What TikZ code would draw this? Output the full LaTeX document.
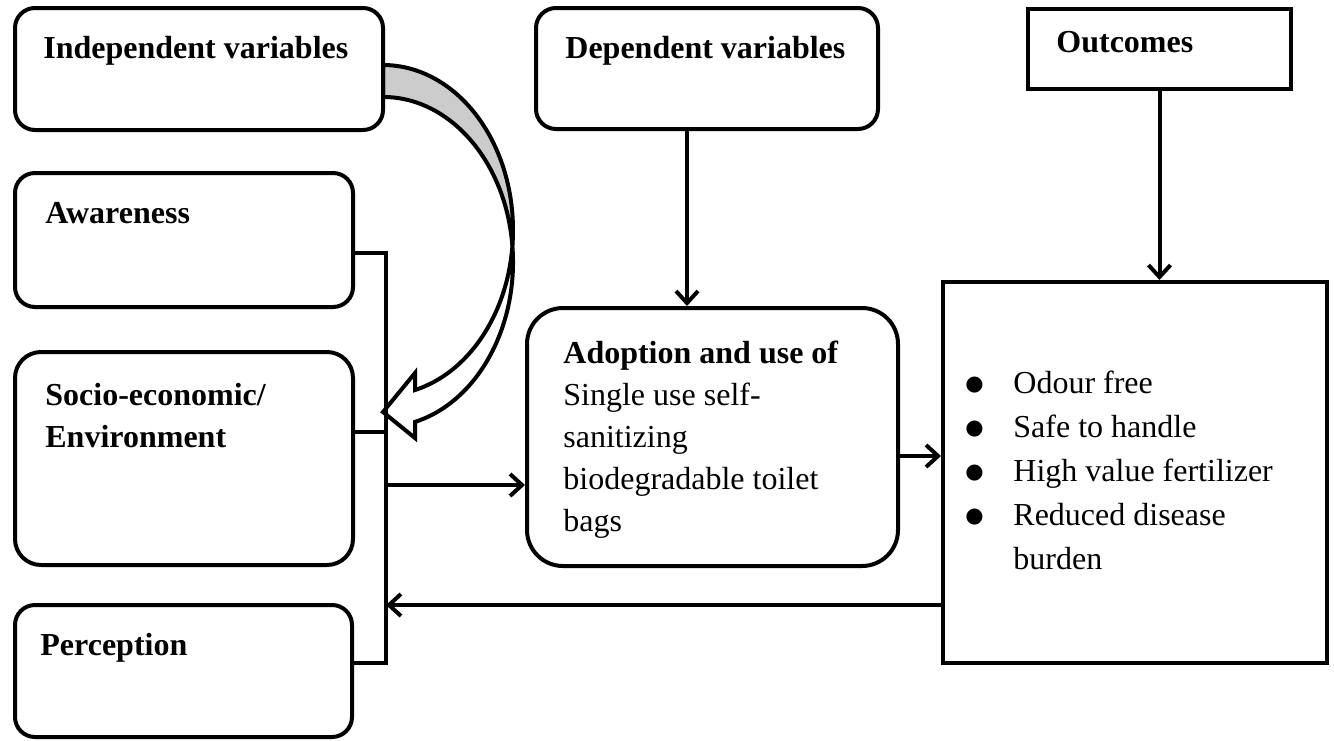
\documentclass[tikz,border=0pt]{standalone}
\usepackage{fontspec}
\setmainfont{Liberation Serif}
\newfontfamily\symfnt{DejaVu Sans}
\usetikzlibrary{arrows.meta}
\newcommand{\bigbul}{\raisebox{1.2pt}{\symfnt\fontsize{10.5pt}{10.5pt}\selectfont ●}}
\begin{document}
\begin{tikzpicture}[x=0.5pt,y=-0.5pt,
  box/.style={draw, line width=2pt, rectangle, inner sep=0pt},
  rbox/.style={box, rounded corners=#1},
  lbl/.style={anchor=base west, inner sep=0pt, font=\fontsize{16pt}{21pt}\selectfont},
  conn/.style={line width=2pt},
  arr/.style={line width=2pt, -{Straight Barb[length=6pt,width=11pt]}},
  curvarr/.style={line width=2pt, line join=miter},
]
\useasboundingbox (0,0) rectangle (1334,740);

% hollow curved arrow (independent variables -> left column)
\filldraw[curvarr, fill=black!20] (383,65)
  arc[start angle=90, end angle=-5.56, x radius=65pt, y radius=82.5pt]
  arc[start angle=5.56, end angle=90, x radius=65pt, y radius=82.5pt] -- cycle;
\filldraw[curvarr, fill=white] (512.4,246)
  arc[start angle=5.56, end angle=-75.75, x radius=65pt, y radius=82.5pt]
  -- (415,438) -- (383,412) -- (415,373) -- (415,390)
  arc[start angle=-75.75, end angle=-5.56, x radius=65pt, y radius=82.5pt] -- cycle;

% boxes
\node[rbox=10pt, minimum width=184pt, minimum height=61pt] (indep) at (199,69) {};
\node[rbox=10pt, minimum width=171pt, minimum height=60.5pt] (dep) at (707,68.5) {};
\node[box, minimum width=131.5pt, minimum height=40pt] (outc) at (1159.5,49) {};
\node[rbox=10pt, minimum width=169pt, minimum height=67pt] (aware) at (184,240) {};
\node[rbox=13pt, minimum width=169pt, minimum height=106.5pt] (socio) at (184,458.5) {};
\node[rbox=10pt, minimum width=168.5pt, minimum height=66pt] (perc) at (183.5,671) {};
\node[rbox=18pt, minimum width=185.5pt, minimum height=129pt] (adopt) at (712.5,437) {};
\node[box, minimum width=192pt, minimum height=190.5pt] (res) at (1135,472.5) {};

% texts
\node[lbl] (tindep) at (43,58) {\textbf{Independent variables}};
\node[lbl] (tdep) at (565,58) {\textbf{Dependent variables}};
\node[lbl] (toutc) at (1056,52) {\textbf{Outcomes}};
\node[lbl] (taware) at (45,223) {\textbf{Awareness}};
\node[lbl] (tsocio) at (45,405) {\begin{tabular}[t]{@{}l@{}}\textbf{Socio-economic/}\\\textbf{Environment}\end{tabular}};
\node[lbl] (tperc) at (40,655) {\textbf{Perception}};
\node[lbl] (tadopt) at (563,363) {\begin{tabular}[t]{@{}l@{}}\textbf{Adoption and use of}\\Single use self-\\sanitizing\\biodegradable toilet\\bags\end{tabular}};
\node[lbl, font=\fontsize{16pt}{22pt}\selectfont] (tres) at (965,393) {\begin{tabular}[t]{@{}p{24pt}@{}l@{}}\bigbul&Odour free\\\bigbul&Safe to handle\\\bigbul&High value fertilizer\\\bigbul&Reduced disease\\&burden\end{tabular}};

% bus and connectors
\coordinate (busTop) at (386,253);
\coordinate (busSoc) at (386,432);
\coordinate (busOut) at (386,485);
\coordinate (busFb) at (386,605);
\coordinate (busBot) at (386,663);
\draw[conn, line join=miter] (aware.east |- busTop) -- (busTop) -- (busBot) -- (perc.east |- busBot);
\draw[conn] (socio.east |- busSoc) -- (busSoc);
\draw[arr] (busOut) -- (adopt.west |- busOut);
\coordinate (adoptOut) at (898,456);
\draw[arr] (adoptOut) -- (res.west |- adoptOut);
\draw[arr] (res.west |- busFb) -- (busFb);
\coordinate (depOut) at (687,129);
\draw[arr] (depOut) -- (depOut |- adopt.north);
\draw[arr] (outc.south) -- (res.north -| outc.south);
\end{tikzpicture}
\end{document}
